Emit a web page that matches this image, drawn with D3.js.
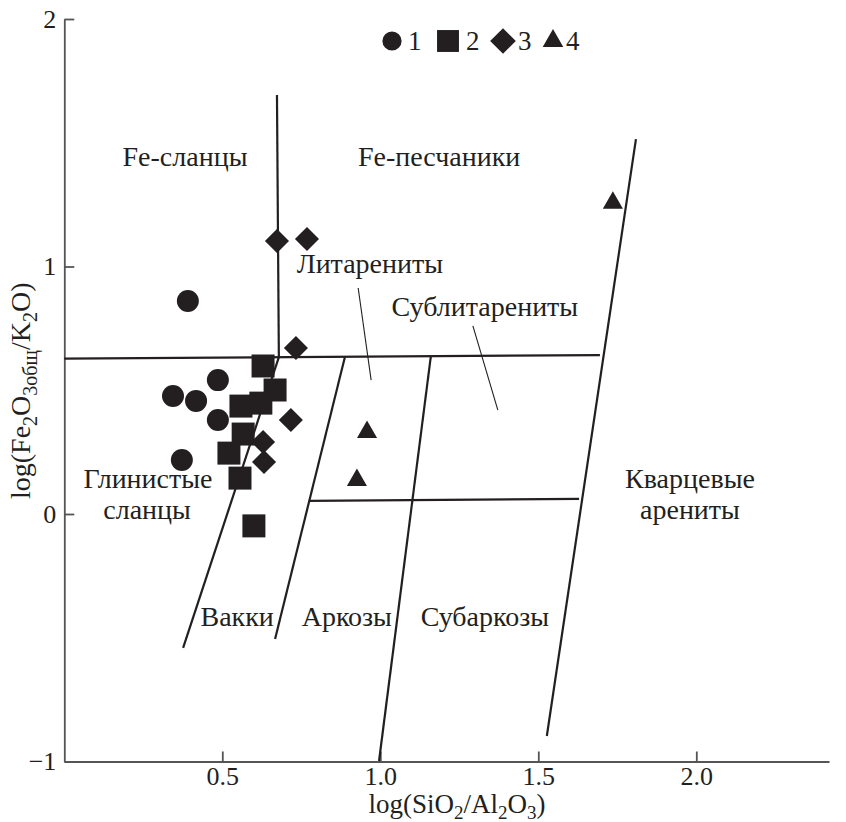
<!DOCTYPE html>
<meta charset="utf-8">
<style>
  body { margin: 0; background: #fff; }
  svg { font-family: 'Liberation Serif', 'Times New Roman', serif; }
  .axis path, .axis line { stroke: #555; stroke-width: 1.8; }
  .axis text { font-size: 26px; fill: #231f20; font-family: 'Liberation Serif', serif; }
  .field { font-size: 28px; fill: #231f20; }
</style>
<body>
<svg id="chart" width="846" height="822"></svg>
<script src="https://d3js.org/d3.v7.min.js"></script>
<script>

// samples: [log(SiO2/Al2O3), log(Fe2O3/K2O)]
var circles   = [[0.391,0.861],[0.344,0.477],[0.417,0.457],[0.486,0.541],[0.486,0.380],[0.372,0.218]];
var squares   = [[0.629,0.598],[0.667,0.501],[0.622,0.448],[0.559,0.436],[0.566,0.323],[0.521,0.246],[0.556,0.145],[0.600,-0.048]];
var diamonds  = [[0.673,1.103],[0.768,1.111],[0.733,0.671],[0.717,0.380],[0.629,0.291],[0.632,0.210]];
var triangles = [[1.736,1.257],[0.958,0.331],[0.926,0.137]];

// field boundaries (Herron 1988)
var boundaries = [
  [[0.673,1.693],[0.679,0.634]],
  [[0,0.628],[1.695,0.642]],
  [[0.376,-0.541],[0.679,0.634]],
  [[0.667,-0.505],[0.888,0.634]],
  [[0.996,-0.998],[1.160,0.638]],
  [[1.527,-0.897],[1.809,1.515]],
  [[0.774,0.053],[1.629,0.061]]
];
var leaders = [
  [[0.930,0.913],[0.971,0.541]],
  [[1.293,0.760],[1.372,0.420]]
];

var fieldNames = [
  {t:"Fe-сланцы", x:0.382, y:1.406},
  {t:"Fe-песчаники", x:1.186, y:1.406},
  {t:"Литарениты", x:0.967, y:0.974},
  {t:"Сублитарениты", x:1.331, y:0.800},
  {t:"Глинистые", x:0.265, y:0.105},
  {t:"сланцы", x:0.262, y:-0.020},
  {t:"Вакки", x:0.547, y:-0.453},
  {t:"Аркозы", x:0.894, y:-0.453},
  {t:"Субаркозы", x:1.331, y:-0.453},
  {t:"Кварцевые", x:1.980, y:0.105},
  {t:"арениты", x:1.980, y:-0.020}
];

var xTicks = [0.5, 1.0, 1.5, 2.0];
var yTicks = [-1, 0, 1, 2];
var legendLabels = ["1", "2", "3", "4"];

var svg = d3.select("#chart");

var x = d3.scaleLinear().domain([0, 2.42]).range([64.3, 64.3 + 316 * 2.42]);
var y = d3.scaleLinear().domain([-1, 2]).range([761.5, 19]);

// axes, ticks pointing inward
svg.append("g")
  .attr("class", "axis")
  .attr("transform", "translate(0," + y(-1) + ")")
  .call(d3.axisBottom(x).tickValues(xTicks).tickFormat(d3.format(".1f"))
        .tickSizeInner(-10).tickSizeOuter(0).tickPadding(5));

svg.append("g")
  .attr("class", "axis")
  .attr("transform", "translate(" + x(0) + ",0)")
  .call(d3.axisLeft(y).tickValues(yTicks).tickFormat(d3.format("d"))
        .tickSizeInner(-10).tickSizeOuter(0).tickPadding(8));

// axis titles
var xt = svg.append("text")
  .attr("x", 457).attr("y", 813)
  .attr("text-anchor", "middle")
  .style("font-size", "27px").attr("fill", "#231f20");
xt.append("tspan").text("log(SiO");
xt.append("tspan").text("2").attr("dy", 6).style("font-size", "19px");
xt.append("tspan").text("/Al").attr("dy", -6);
xt.append("tspan").text("2").attr("dy", 6).style("font-size", "19px");
xt.append("tspan").text("O").attr("dy", -6);
xt.append("tspan").text("3").attr("dy", 6).style("font-size", "19px");
xt.append("tspan").text(")").attr("dy", -6);

var yt = svg.append("text")
  .attr("transform", "translate(30,499) rotate(-90)")
  .attr("text-anchor", "start")
  .style("font-size", "28px").attr("fill", "#231f20");
yt.append("tspan").text("log(Fe");
yt.append("tspan").text("2").attr("dy", 7).style("font-size", "20px");
yt.append("tspan").text("O").attr("dy", -7);
yt.append("tspan").text("3общ").attr("dy", 7).style("font-size", "20px");
yt.append("tspan").text("/K").attr("dy", -7);
yt.append("tspan").text("2").attr("dy", 7).style("font-size", "20px");
yt.append("tspan").text("O)").attr("dy", -7);

// field boundaries
var line = d3.line().x(function(d) { return x(d[0]); }).y(function(d) { return y(d[1]); });

svg.append("g").selectAll("path")
  .data(boundaries).enter().append("path")
  .attr("d", line)
  .attr("fill", "none").attr("stroke", "#231f20").attr("stroke-width", 2.2);

svg.append("g").selectAll("path")
  .data(leaders).enter().append("path")
  .attr("d", line)
  .attr("fill", "none").attr("stroke", "#231f20").attr("stroke-width", 1.1);

svg.append("g").selectAll("text")
  .data(fieldNames).enter().append("text")
  .attr("class", "field")
  .attr("x", function(d) { return x(d.x); })
  .attr("y", function(d) { return y(d.y); })
  .attr("text-anchor", "middle")
  .text(function(d) { return d.t; });

// samples
var ink = "#231f20";
var series = [
  {data: circles,   sym: d3.symbolCircle,   size: 380, rot: 0},
  {data: squares,   sym: d3.symbolSquare,   size: 529, rot: 0},
  {data: diamonds,  sym: d3.symbolSquare,   size: 290, rot: 45},
  {data: triangles, sym: d3.symbolTriangle, size: 175, rot: 0}
];

series.forEach(function(s) {
  svg.append("g").selectAll("path")
    .data(s.data).enter().append("path")
    .attr("d", d3.symbol().type(s.sym).size(s.size))
    .attr("transform", function(d) {
      return "translate(" + x(d[0]) + "," + y(d[1]) + ") rotate(" + s.rot + ")";
    })
    .attr("fill", ink);
});

// legend
var leg = svg.append("g").attr("transform", "translate(392,41)");
var legX = [0, 56, 111, 161];
var legSize = [290, 480, 330, 184];
var legGap = [16, 18, 15, 13];
series.forEach(function(s, i) {
  leg.append("path")
    .attr("d", d3.symbol().type(s.sym).size(legSize[i])())
    .attr("transform", "translate(" + legX[i] + ",0) rotate(" + s.rot + ")")
    .attr("fill", ink);
  leg.append("text")
    .attr("x", legX[i] + legGap[i]).attr("y", 9)
    .style("font-size", "27px").attr("fill", ink)
    .text(legendLabels[i]);
});

</script>
</body>
